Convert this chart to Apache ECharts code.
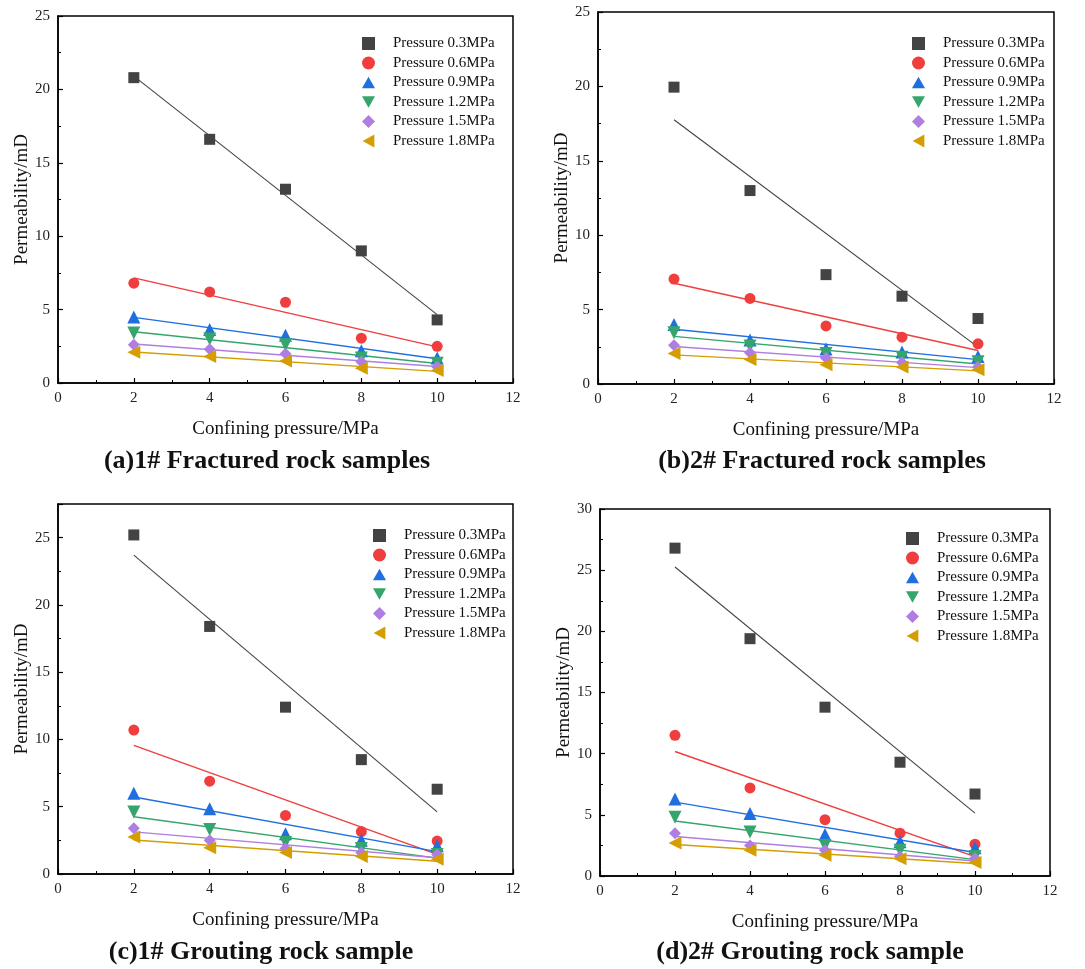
<!DOCTYPE html>
<html>
<head>
<meta charset="utf-8">
<script src="https://cdn.jsdelivr.net/npm/echarts@6/dist/echarts.min.js"></script>
<style>
  html, body { margin: 0; padding: 0; background: #fff; }
  #main { width: 1085px; height: 969px; }
</style>
</head>
<body>
<div id="main"></div>
<script>
// confining pressure (x) shared by all panels
const confining = [2, 4, 6, 8, 10];
const pressureNames = ['Pressure 0.3MPa', 'Pressure 0.6MPa', 'Pressure 0.9MPa', 'Pressure 1.2MPa', 'Pressure 1.5MPa', 'Pressure 1.8MPa'];
const xTicks = [0, 2, 4, 6, 8, 10, 12];

// permeability, one row per gas pressure
const fractured1 = [
  [20.8, 16.6, 13.2, 9.0, 4.3],
  [6.8, 6.2, 5.5, 3.05, 2.5],
  [4.5, 3.65, 3.25, 2.2, 1.7],
  [3.4, 3.0, 2.6, 1.7, 1.35],
  [2.6, 2.3, 2.0, 1.45, 1.1],
  [2.1, 1.8, 1.5, 1.0, 0.85]
];
const fractured2 = [
  [19.95, 13.0, 7.35, 5.9, 4.4],
  [7.05, 5.75, 3.9, 3.15, 2.7],
  [4.0, 2.95, 2.35, 2.15, 1.85],
  [3.45, 2.55, 2.05, 1.8, 1.5],
  [2.6, 2.1, 1.75, 1.45, 1.15],
  [2.05, 1.65, 1.3, 1.15, 0.95]
];
const grouting1 = [
  [25.2, 18.4, 12.4, 8.5, 6.3],
  [10.7, 6.9, 4.35, 3.15, 2.45],
  [6.0, 4.85, 3.0, 2.5, 2.1],
  [4.6, 3.3, 2.35, 1.9, 1.45],
  [3.4, 2.5, 1.9, 1.6, 1.45],
  [2.75, 1.95, 1.6, 1.3, 1.1]
];
const grouting2 = [
  [26.8, 19.4, 13.8, 9.3, 6.7],
  [11.5, 7.2, 4.6, 3.5, 2.6],
  [6.3, 5.1, 3.4, 2.8, 2.3],
  [4.8, 3.6, 2.5, 2.1, 1.6],
  [3.5, 2.5, 2.1, 1.6, 1.45],
  [2.7, 2.1, 1.7, 1.4, 1.1]
];
const yMax = [25, 25, 27.5, 30];
const captions = ['(a)1# Fractured rock samples', '(b)2# Fractured rock samples', '(c)1# Grouting rock sample', '(d)2# Grouting rock sample'];

const colors = ['#434343', '#f03e3e', '#1f6fe0', '#34a66c', '#b07ee0', '#d49e00'];
const symbols = [
  'rect', 'circle',
  'path://M5,0 L10,9 L0,9 Z',
  'path://M0,0 L10,0 L5,9 Z',
  'diamond',
  'path://M9,0 L9,10 L0,5 Z'
];
const sizes = [11, 11, 13, 13, 12, 13];

const FONT = "'Liberation Serif', 'Times New Roman', serif";

const panels = [fractured1, fractured2, grouting1, grouting2];
const grids = [
  { left: 58, top: 16, width: 455, height: 367 },
  { left: 598, top: 12, width: 456, height: 372 },
  { left: 58, top: 504, width: 455, height: 370 },
  { left: 600, top: 509, width: 450, height: 367 }
];
const legendPos = [
  { left: 362, top: 36 },
  { left: 912, top: 36 },
  { left: 373, top: 528 },
  { left: 906, top: 531 }
];
const captionPos = [[267, 461], [822, 461], [261, 952], [810, 952]];

// least squares fit through one row
function fitLine(xs, ys) {
  const n = xs.length;
  const mx = xs.reduce((a, b) => a + b, 0) / n;
  const my = ys.reduce((a, b) => a + b, 0) / n;
  let sxy = 0, sxx = 0;
  for (let i = 0; i < n; i++) {
    sxy += (xs[i] - mx) * (ys[i] - my);
    sxx += (xs[i] - mx) * (xs[i] - mx);
  }
  const k = sxy / sxx;
  const b = my - k * mx;
  const x0 = xs[0], x1 = xs[n - 1];
  return [[x0, k * x0 + b], [x1, k * x1 + b]];
}

const xAxes = [], yAxes = [], series = [], legends = [], graphics = [];

grids.forEach(function (g, p) {
  xAxes.push({
    gridIndex: p, type: 'value', min: 0, max: 12, interval: 2,
    name: 'Confining pressure/MPa', nameLocation: 'middle', nameGap: 37,
    nameTextStyle: { fontFamily: FONT, fontSize: 19, color: '#111' },
    axisLine: { lineStyle: { color: '#000', width: 1.5 } },
    axisTick: { inside: true, length: 5, lineStyle: { color: '#000', width: 1.2 } },
    minorTick: { show: true, splitNumber: 2, length: 3, lineStyle: { color: '#000', width: 1 } },
    axisLabel: { fontFamily: FONT, fontSize: 15, color: '#222', margin: 8,
      formatter: function (v) { return xTicks.indexOf(v) >= 0 ? String(v) : ''; } },
    splitLine: { show: false }
  });
  yAxes.push({
    gridIndex: p, type: 'value', min: 0, max: yMax[p], interval: 5,
    name: 'Permeability/mD', nameLocation: 'middle', nameGap: 26,
    nameTextStyle: { fontFamily: FONT, fontSize: 19, color: '#111' },
    axisLine: { show: true, lineStyle: { color: '#000', width: 1.5 } },
    axisTick: { show: true, inside: true, length: 5, lineStyle: { color: '#000', width: 1.2 } },
    minorTick: { show: true, splitNumber: 2, length: 3, lineStyle: { color: '#000', width: 1 } },
    axisLabel: { fontFamily: FONT, fontSize: 15, color: '#222', margin: 8,
      formatter: function (v) { return v % 5 === 0 ? String(v) : ''; } },
    splitLine: { show: false }
  });

  panels[p].forEach(function (row, i) {
    series.push({
      name: pressureNames[i], type: 'scatter', xAxisIndex: p, yAxisIndex: p,
      data: confining.map(function (x, j) { return [x, row[j]]; }),
      symbol: symbols[i], symbolSize: sizes[i],
      itemStyle: { color: colors[i], opacity: 1 }, z: 3
    });
    series.push({
      name: 'fit ' + pressureNames[i], type: 'line', xAxisIndex: p, yAxisIndex: p,
      data: fitLine(confining, row), showSymbol: false, symbol: 'none',
      lineStyle: { color: colors[i], width: i === 0 ? 1.1 : 1.4 }, z: 2, silent: true
    });
  });

  legends.push({
    orient: 'vertical', left: legendPos[p].left, top: legendPos[p].top,
    padding: 0,
    data: pressureNames, itemWidth: 13, itemHeight: 13, itemGap: 4.5,
    selectedMode: false,
    textStyle: { fontFamily: FONT, fontSize: 15, color: '#111', padding: [0, 0, 0, 13] }
  });

  graphics.push({
    type: 'text', x: captionPos[p][0], y: captionPos[p][1],
    style: { text: captions[p], align: 'center', verticalAlign: 'middle',
      font: 'bold 26px ' + FONT, fill: '#111' }
  });
});

const chart = echarts.init(document.getElementById('main'));
chart.setOption({
  backgroundColor: '#fff',
  animation: false,
  grid: grids.map(function (g) {
    return Object.assign({ show: true, borderColor: '#000', borderWidth: 1.5, backgroundColor: 'transparent' }, g);
  }),
  xAxis: xAxes,
  yAxis: yAxes,
  legend: legends,
  series: series,
  graphic: graphics
});
</script>
</body>
</html>
